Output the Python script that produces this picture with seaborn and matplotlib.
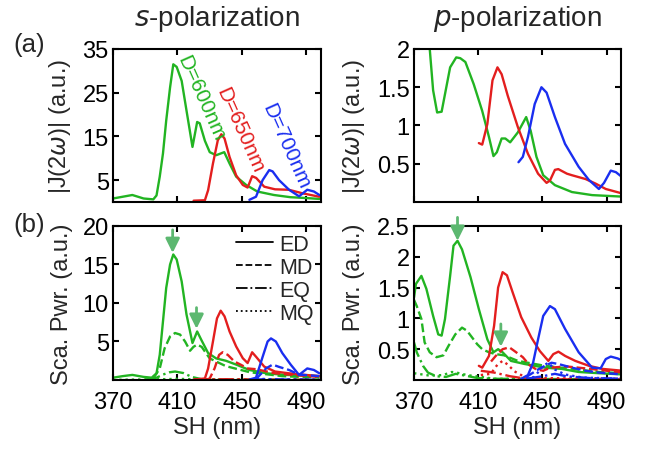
import matplotlib
matplotlib.use("Agg")
import matplotlib.pyplot as plt
from matplotlib.lines import Line2D
import seaborn as sns
import numpy as np

# ---------------- data ----------------
xticks = [370, 410, 450, 490]
colors = {"600": "#22b422", "650": "#e31e1e", "700": "#1a2ef0"}
arrow_color = "#5cb870"

# s-polarization |J(2w)|
sJ600_x = [370, 376, 382, 389, 395, 397, 399, 401, 403, 405.4, 407.4, 409.5, 412.6, 415.6, 419.3, 422.2, 423.8, 427, 430, 434, 439, 442.3, 446.4, 452.6, 459.5, 469.8, 480, 490, 498]
sJ600_y = [0.8, 1.2, 1.6, 0.8, 0.6, 1.5, 5.8, 11.1, 18.6, 26.2, 31.5, 30.9, 27.7, 20.9, 12.6, 18.3, 18.0, 14.0, 11.4, 10.7, 11.4, 8.8, 5.8, 3.9, 2.4, 1.6, 1.1, 0.9, 0.7]
sJ650_x = [420, 427, 429, 432, 435, 437.2, 439.2, 442.3, 446.4, 450.5, 453.5, 456.3, 458.8, 463.8, 470.5, 479, 487.4, 498]
sJ650_y = [0.3, 0.4, 2.7, 8.8, 14.1, 15.5, 14.5, 10.3, 6.1, 3.9, 3.3, 5.9, 5.5, 3.5, 2.9, 2.8, 2.0, 1.2]
sJ700_x = [454.6, 458.7, 462.8, 466.9, 469, 473, 479.2, 485.4, 490.5, 494.6, 498]
sJ700_y = [0.5, 1.2, 5.0, 7.3, 7.0, 5.0, 2.8, 1.3, 2.8, 2.4, 1.6]

# p-polarization |J(2w)|
pJ600_x = [378, 379.8, 381.9, 384.4, 387.2, 389.3, 392.5, 396.3, 398.8, 402, 407.2, 412.5, 416.7, 419.5, 421.6, 424.6, 426.9, 429.9, 434.7, 439.9, 442.7, 446.3, 450.5, 457.8, 468.4, 481, 500]
pJ600_y = [2.3, 2.0, 1.46, 1.17, 1.18, 1.41, 1.76, 1.89, 1.88, 1.83, 1.54, 1.19, 0.85, 0.6, 0.65, 0.83, 0.83, 0.78, 0.91, 1.11, 0.93, 0.59, 0.35, 0.22, 0.13, 0.09, 0.07]
pJ650_x = [410.4, 412.5, 415.7, 418.9, 422, 424.6, 428.4, 434.7, 441, 447.3, 452.6, 454.7, 457.8, 459.9, 465.3, 468.4, 476.9, 483.2, 489.5, 500]
pJ650_y = [0.77, 0.75, 1.02, 1.59, 1.76, 1.67, 1.39, 0.98, 0.63, 0.37, 0.25, 0.28, 0.42, 0.43, 0.37, 0.35, 0.30, 0.24, 0.17, 0.11]
pJ700_x = [435.1, 437.8, 441, 445.2, 449.4, 452.6, 457.8, 464.1, 472.6, 478.9, 485.2, 488.4, 492.6, 495.8, 500]
pJ700_y = [0.52, 0.59, 0.85, 1.28, 1.5, 1.43, 1.11, 0.76, 0.46, 0.29, 0.17, 0.25, 0.41, 0.39, 0.32]

# s-polarization scattered power (ED, MD, EQ, MQ)
sED600_x = [370, 376, 382, 389, 394, 397, 399, 401, 403, 405.4, 407.4, 409.5, 412.6, 415.6, 419.3, 422.2, 424.8, 429, 434, 440, 446.4, 454.6, 465, 477, 498]
sED600_y = [0.3, 0.5, 0.66, 0.4, 0.3, 0.87, 3.27, 7.6, 11.95, 15.0, 16.3, 15.65, 12.8, 8.5, 4.8, 6.3, 5.2, 3.5, 2.8, 2.5, 2.0, 1.3, 0.87, 0.66, 0.5]
sMD600_x = [395, 399, 402, 405.4, 408.5, 411.6, 414.7, 417.8, 419.9, 422.2, 425, 430, 440, 455, 475, 498]
sMD600_y = [0.2, 1.5, 4.1, 5.65, 6.1, 5.9, 5.0, 3.8, 4.3, 4.6, 4.3, 2.8, 1.8, 1.0, 0.5, 0.3]
sEQ600_x = [390, 397, 401, 405, 408.5, 413.7, 418.8, 425, 440, 498]
sEQ600_y = [0.05, 0.3, 0.7, 1.0, 1.1, 0.9, 0.4, 0.1, 0.05, 0.02]
sMQ600_x = [370, 400, 410, 420, 440, 498]
sMQ600_y = [0.02, 0.1, 0.15, 0.1, 0.05, 0.02]

sED650_x = [420, 427, 429, 432, 434.5, 436.8, 439.2, 442.3, 446.4, 450.5, 453.5, 456.3, 458.8, 463.8, 470.5, 479, 487.4, 498]
sED650_y = [0.05, 0.2, 1.5, 5.0, 8.0, 9.0, 8.26, 6.3, 4.35, 2.83, 2.2, 3.6, 3.0, 1.74, 1.1, 0.87, 0.7, 0.5]
sMD650_x = [428, 430, 433, 435.8, 438, 441.2, 445.3, 449.5, 453.5, 458.8, 470.5, 485, 498]
sMD650_y = [0.05, 0.2, 1.5, 3.26, 3.6, 3.26, 2.4, 1.96, 1.5, 1.4, 0.87, 0.6, 0.4]
sEQ650_x = [420, 440, 460, 498]
sEQ650_y = [0.02, 0.1, 0.05, 0.02]
sMQ650_x = [420, 440, 460, 498]
sMQ650_y = [0.02, 0.05, 0.03, 0.01]

sED700_x = [454.6, 458.7, 462.8, 465.9, 468, 471, 475, 480.2, 485.4, 490.5, 494.6, 498]
sED700_y = [0.05, 0.3, 3.0, 5.0, 5.4, 5.0, 3.5, 2.0, 0.66, 1.5, 1.3, 0.87]
sMD700_x = [458.7, 464.9, 469, 473, 479.2, 485.4, 491.5, 498]
sMD700_y = [0.1, 1.5, 2.0, 1.7, 1.3, 0.7, 0.6, 0.5]
sEQ700_x = [455, 465, 480, 498]
sEQ700_y = [0.02, 0.1, 0.05, 0.02]
sMQ700_x = [455, 462, 470, 498]
sMQ700_y = [0.02, 0.15, 0.05, 0.02]

# p-polarization scattered power (ED, MD, EQ, MQ)
pED600_x = [370, 371.2, 374.6, 377.7, 381.9, 385.1, 387.2, 389.3, 392.5, 394.6, 397.1, 399.9, 405.2, 410.4, 415.7, 419.5, 422.4, 425.2, 430.4, 438.9, 451.5, 462, 472.6, 485.2, 500]
pED600_y = [1.34, 1.56, 1.69, 1.48, 1.04, 0.74, 0.72, 0.99, 1.69, 2.18, 2.26, 2.12, 1.67, 1.15, 0.66, 0.45, 0.5, 0.45, 0.31, 0.26, 0.2, 0.18, 0.13, 0.11, 0.09]
pMD600_x = [370, 371.7, 374.6, 376.6, 379.8, 384, 388.3, 391.4, 395.7, 399.9, 403, 406.2, 409.4, 412.5, 416.7, 420.9, 426.2, 434.7, 451.5, 468.4, 485.2, 500]
pMD600_y = [1.3, 1.2, 0.99, 0.61, 0.45, 0.37, 0.4, 0.55, 0.74, 0.85, 0.8, 0.69, 0.58, 0.5, 0.45, 0.42, 0.4, 0.31, 0.23, 0.18, 0.13, 0.11]
pEQ600_x = [370, 371.7, 375.6, 378.7, 384, 390, 396, 402, 410, 420, 500]
pEQ600_y = [0.61, 0.45, 0.23, 0.12, 0.06, 0.05, 0.1, 0.07, 0.03, 0.02, 0.01]
pMQ600_x = [370, 380, 388, 393.6, 396.5, 403, 411.6, 420, 500]
pMQ600_y = [0.11, 0.07, 0.08, 0.13, 0.12, 0.08, 0.05, 0.02, 0.01]

pED650_x = [410.4, 412.5, 416.7, 419.9, 422.4, 425.2, 427.9, 431.5, 436.8, 443.1, 448.4, 453.7, 456.8, 460, 464.2, 470.5, 479, 487.4, 500]
pED650_y = [0.23, 0.2, 0.39, 0.88, 1.5, 1.75, 1.7, 1.42, 1.02, 0.69, 0.47, 0.31, 0.42, 0.46, 0.39, 0.31, 0.23, 0.18, 0.15]
pMD650_x = [418, 420.9, 425.2, 429.4, 432.6, 437.8, 442, 446.3, 450.5, 455, 465, 480, 500]
pMD650_y = [0.3, 0.39, 0.5, 0.53, 0.47, 0.37, 0.24, 0.17, 0.15, 0.2, 0.22, 0.18, 0.12]
pEQ650_x = [411.6, 420, 430, 440, 450, 500]
pEQ650_y = [0.15, 0.12, 0.06, 0.02, 0.01, 0.01]
pMQ650_x = [411.6, 417.8, 422, 425.2, 428.4, 432.6, 438.9, 450, 500]
pMQ650_y = [0.08, 0.1, 0.25, 0.31, 0.25, 0.14, 0.05, 0.03, 0.02]

pED700_x = [436.8, 441, 444.2, 447.3, 450.5, 454.7, 457.8, 464.1, 472.6, 481, 486.3, 489.5, 492.6, 496.9, 500]
pED700_y = [0.02, 0.08, 0.28, 0.66, 1.04, 1.2, 1.15, 0.83, 0.45, 0.2, 0.19, 0.34, 0.38, 0.35, 0.31]
pMD700_x = [440, 447.3, 451.5, 455.7, 459.9, 468.4, 476.9, 485.2, 500]
pMD700_y = [0.05, 0.17, 0.23, 0.28, 0.26, 0.2, 0.15, 0.12, 0.09]
pEQ700_x = [440, 450, 457.8, 465, 480, 500]
pEQ700_y = [0.02, 0.06, 0.1, 0.06, 0.03, 0.02]
pMQ700_x = [440, 445, 450.5, 453.7, 457.8, 464, 475, 500]
pMQ700_y = [0.02, 0.05, 0.23, 0.28, 0.17, 0.09, 0.04, 0.02]

# arrows (x, tail y, tip y)
s_arrows = [(407, 19.5, 16.5), (421.8, 9.4, 6.65)]
p_arrows = [(397.1, 2.64, 2.26), (424.1, 0.91, 0.54)]

# ---------------- style ----------------
sns.set_theme(style="ticks")
plt.rcParams["font.family"] = ["Liberation Sans", "DejaVu Sans"]
plt.rcParams["mathtext.fontset"] = "dejavusans"
plt.rcParams["axes.linewidth"] = 1.5
plt.rcParams["axes.edgecolor"] = "black"

fig = plt.figure(figsize=(6.52, 4.52), dpi=100)
axTL = fig.add_axes([0.1733, 0.5509, 0.3190, 0.3385])
axTR = fig.add_axes([0.6350, 0.5509, 0.3175, 0.3385])
axBL = fig.add_axes([0.1733, 0.1571, 0.3190, 0.3407])
axBR = fig.add_axes([0.6350, 0.1571, 0.3175, 0.3407])

LW = 1.7
styles = {"ED": "-", "MD": "--", "EQ": "-.", "MQ": ":"}


def draw(ax, x, y, c, ls="-"):
    sns.lineplot(x=x, y=y, ax=ax, color=c, linestyle=ls, lw=LW,
                 estimator=None, sort=False, legend=False)


draw(axTL, sJ600_x, sJ600_y, colors["600"])
draw(axTL, sJ650_x, sJ650_y, colors["650"])
draw(axTL, sJ700_x, sJ700_y, colors["700"])

draw(axTR, pJ600_x, pJ600_y, colors["600"])
draw(axTR, pJ650_x, pJ650_y, colors["650"])
draw(axTR, pJ700_x, pJ700_y, colors["700"])

for key, sets in {
    "600": [(sED600_x, sED600_y, "ED"), (sMD600_x, sMD600_y, "MD"), (sEQ600_x, sEQ600_y, "EQ"), (sMQ600_x, sMQ600_y, "MQ")],
    "650": [(sED650_x, sED650_y, "ED"), (sMD650_x, sMD650_y, "MD"), (sEQ650_x, sEQ650_y, "EQ"), (sMQ650_x, sMQ650_y, "MQ")],
    "700": [(sED700_x, sED700_y, "ED"), (sMD700_x, sMD700_y, "MD"), (sEQ700_x, sEQ700_y, "EQ"), (sMQ700_x, sMQ700_y, "MQ")],
}.items():
    for x, y, m in sets:
        draw(axBL, x, y, colors[key], styles[m])

for key, sets in {
    "600": [(pED600_x, pED600_y, "ED"), (pMD600_x, pMD600_y, "MD"), (pEQ600_x, pEQ600_y, "EQ"), (pMQ600_x, pMQ600_y, "MQ")],
    "650": [(pED650_x, pED650_y, "ED"), (pMD650_x, pMD650_y, "MD"), (pEQ650_x, pEQ650_y, "EQ"), (pMQ650_x, pMQ650_y, "MQ")],
    "700": [(pED700_x, pED700_y, "ED"), (pMD700_x, pMD700_y, "MD"), (pEQ700_x, pEQ700_y, "EQ"), (pMQ700_x, pMQ700_y, "MQ")],
}.items():
    for x, y, m in sets:
        draw(axBR, x, y, colors[key], styles[m])

# axes formatting
ylims = {axTL: (0, 35), axTR: (0, 2), axBL: (0, 20), axBR: (0, 2.5)}
yticks = {axTL: [5, 15, 25, 35], axTR: [0.5, 1, 1.5, 2],
          axBL: [5, 10, 15, 20], axBR: [0.5, 1, 1.5, 2, 2.5]}
for ax in [axTL, axTR, axBL, axBR]:
    ax.set_xlim(370, 499)
    ax.set_ylim(*ylims[ax])
    ax.set_xticks(xticks)
    ax.set_yticks(yticks[ax])
    ax.set_yticklabels([f"{v:g}" for v in yticks[ax]])
    ax.tick_params(direction="in", top=True, right=True, length=4, width=1.5,
                   labelsize=17, pad=3, colors="black")
    ax.tick_params(axis="x", pad=8)
    for s in ax.spines.values():
        s.set_linewidth(1.5)
        s.set_color("black")
    ax.set_xlabel("")
    ax.set_ylabel("")

for ax in [axTL, axTR]:
    ax.set_xticklabels([])
for ax in [axBL, axBR]:
    ax.set_xticklabels([str(v) for v in xticks])
    ax.set_xlabel("SH (nm)", fontsize=17, labelpad=2)

axTL.set_ylabel(r"|J(2$\omega$)| (a.u.)", fontsize=17)
axTR.set_ylabel(r"|J(2$\omega$)| (a.u.)", fontsize=17)
axBL.set_ylabel("Sca. Pwr. (a.u.)", fontsize=17)
axBR.set_ylabel("Sca. Pwr. (a.u.)", fontsize=17)
axTL.yaxis.set_label_coords(-0.19, 0.5)
axBL.yaxis.set_label_coords(-0.19, 0.5)
axTR.yaxis.set_label_coords(-0.225, 0.5)
axBR.yaxis.set_label_coords(-0.235, 0.5)

axTL.set_title(r"$\it{s}$-polarization", fontsize=20, pad=17)
axTR.set_title(r"$\it{p}$-polarization", fontsize=20, pad=17)

fig.text(0.02, 0.90, "(a)", fontsize=18.5, va="center", ha="left")
fig.text(0.02, 0.502, "(b)", fontsize=18.5, va="center", ha="left")

# rotated D labels
axTL.text(424.6, 23.8, "D=600nm", color=colors["600"], fontsize=15,
          rotation=-66, ha="center", va="center")
axTL.text(448.8, 16.6, "D=650nm", color=colors["650"], fontsize=15,
          rotation=-66, ha="center", va="center")
axTL.text(477.0, 12.8, "D=700nm", color=colors["700"], fontsize=15,
          rotation=-66, ha="center", va="center")

# arrows
for ax, arrs in [(axBL, s_arrows), (axBR, p_arrows)]:
    for x, y0, y1 in arrs:
        ax.annotate("", xy=(x, y1), xytext=(x, y0),
                    arrowprops=dict(arrowstyle="-|>,head_length=0.85,head_width=0.42",
                                    color=arrow_color, lw=2, shrinkA=0, shrinkB=0,
                                    mutation_scale=10),
                    annotation_clip=False)

# legend
handles = [Line2D([0], [0], color="black", lw=1.3, linestyle=styles[m]) for m in ["ED", "MD", "EQ", "MQ"]]
axBL.legend(handles, ["ED", "MD", "EQ", "MQ"], loc="upper right", frameon=False,
            fontsize=15.5, handlelength=1.72, labelspacing=0.1, handletextpad=0.28,
            borderaxespad=0.15, borderpad=0.2)

fig.savefig("out.png", dpi=100)
